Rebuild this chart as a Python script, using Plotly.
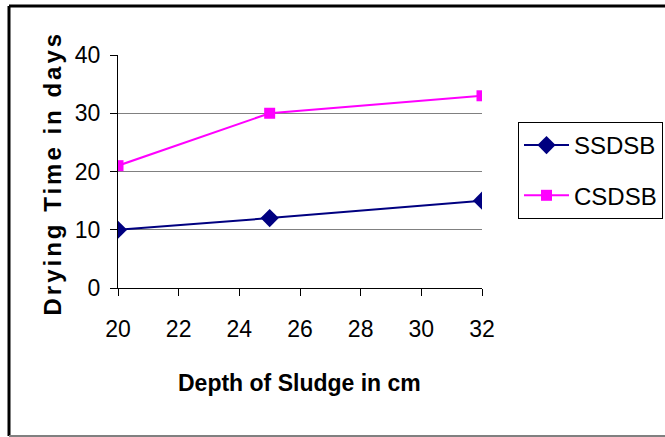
import plotly.graph_objects as go

depth = [20, 25, 32]
ssdsb = [10, 12, 15]
csdsb = [21, 30, 33]
x_ticks = [20, 22, 24, 26, 28, 30, 32]
y_ticks = [0, 10, 20, 30, 40]

FONT = "Liberation Sans, Arial, sans-serif"
# plot area in pixels: x 118..482, y 55..288
L, R, T, B = 118, 482, 55, 288
W, H = 665, 437
def px(x): return (x - L) / (R - L)
def py(y): return (B - y) / (B - T)

fig = go.Figure()
fig.add_trace(go.Scatter(x=depth, y=ssdsb, name="SSDSB", mode="lines+markers", legendgroup="a",
                         line=dict(color="#000080", width=2),
                         marker=dict(symbol="diamond", size=14, color="#000080")))
fig.add_trace(go.Scatter(x=depth, y=csdsb, name="CSDSB", mode="lines+markers", legendgroup="b",
                         line=dict(color="#FF00FF", width=2),
                         marker=dict(symbol="square", size=11, color="#FF00FF")))

fig.update_layout(
    width=W, height=H,
    margin=dict(l=L, r=W - R, t=T, b=H - B, pad=0, autoexpand=False),
    paper_bgcolor="white", plot_bgcolor="white",
    font=dict(family=FONT, size=23, color="black"),
    showlegend=True,
    legend=dict(x=px(518), y=py(122), xanchor="left", yanchor="top",
                bordercolor="black", borderwidth=1, bgcolor="white",
                font=dict(family=FONT, size=24, color="black"),
                traceorder="grouped", tracegroupgap=16, itemwidth=45),
    xaxis=dict(range=[20, 32], tickvals=x_ticks, ticktext=[str(v) for v in x_ticks],
               showgrid=False, zeroline=False, showline=True, linecolor="black", linewidth=1,
               ticks="outside", ticklen=7, tickcolor="black", tickwidth=1,
               ticklabelstandoff=13, automargin=False,
               tickfont=dict(family=FONT, size=23, color="black")),
    yaxis=dict(range=[0, 40], tickvals=y_ticks,
               showgrid=True, gridcolor="#808080", gridwidth=1, zeroline=False,
               showline=True, linecolor="black", linewidth=1,
               ticks="outside", ticklen=7, tickcolor="black", tickwidth=1,
               ticklabelstandoff=5, automargin=False,
               tickfont=dict(family=FONT, size=23, color="black")),
    annotations=[
        dict(text="<b>Depth of Sludge in cm</b>", x=px(299), y=py(383), xref="paper", yref="paper",
             showarrow=False, xanchor="center", yanchor="middle",
             font=dict(family=FONT, size=23, color="black")),
        dict(text="<b>Drying Time in days</b>", x=px(52), y=py(173), xref="paper", yref="paper",
             showarrow=False, xanchor="center", yanchor="middle", textangle=-90,
             font=dict(family=FONT, size=24, color="black")),
    ],
    shapes=[
        dict(type="line", xref="paper", yref="paper", x0=px(9), x1=px(670), y0=py(6), y1=py(6),
             line=dict(color="black", width=3)),
        dict(type="line", xref="paper", yref="paper", x0=px(9), x1=px(9), y0=py(6), y1=py(436),
             line=dict(color="black", width=3)),
        dict(type="line", xref="paper", yref="paper", x0=px(9), x1=px(670), y0=py(436), y1=py(436),
             line=dict(color="#808080", width=2)),
    ],
)

post = """
document.body.style.margin = '0';
var ts = document.querySelectorAll('.annotation-text');
ts.forEach(function(t){ if (t.textContent.indexOf('Drying') >= 0) { t.style.letterSpacing = '3px'; } });
"""
fig.write_html("out.html", post_script=post, config={"displayModeBar": False})
